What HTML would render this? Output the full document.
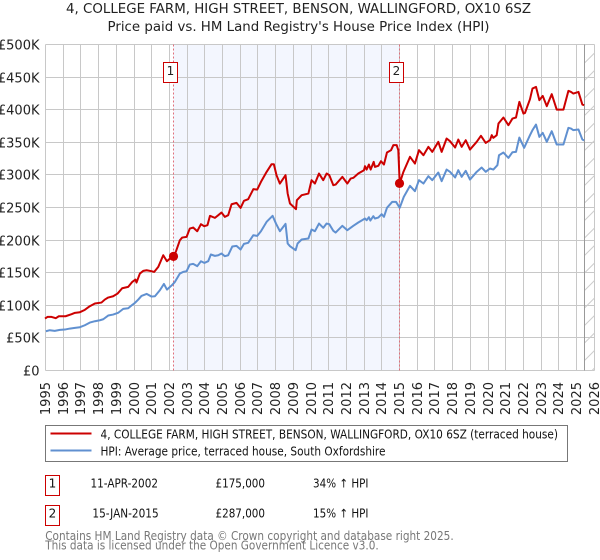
<!DOCTYPE html>
<html>
<head>
<meta charset="utf-8">
<title>Price paid vs. HM Land Registry's House Price Index</title>
<style>
html,body{margin:0;padding:0;background:#fff;}
svg{display:block;font-family:"DejaVu Sans","Liberation Sans",sans-serif;filter:blur(0.3px);}
</style>
</head>
<body>
<svg id="chart" xmlns="http://www.w3.org/2000/svg" width="600" height="560" viewBox="0 0 600 560">
  <defs>
    <pattern id="hatch" patternUnits="userSpaceOnUse" width="17.5" height="17.5">
      <line x1="0" y1="17.5" x2="17.5" y2="0" stroke="#ccc" stroke-width="1"/>
    </pattern>
  </defs>
  <g id="plot"></g>
  <g fill="#222" font-size="13">
    <text x="66" y="13" textLength="465" lengthAdjust="spacingAndGlyphs">4, COLLEGE FARM, HIGH STREET, BENSON, WALLINGFORD, OX10 6SZ</text>
    <text x="107.5" y="31" textLength="382" lengthAdjust="spacingAndGlyphs">Price paid vs. HM Land Registry's House Price Index (HPI)</text>
  </g>
  <g font-size="12" fill="#111">
    <rect x="45.5" y="425.5" width="522" height="36" fill="#fff" stroke="#777"/>
    <line x1="50.5" y1="433.5" x2="91.5" y2="433.5" stroke="#cc0000" stroke-width="2"/>
    <text x="100.5" y="438.5" textLength="457.5" lengthAdjust="spacingAndGlyphs">4, COLLEGE FARM, HIGH STREET, BENSON, WALLINGFORD, OX10 6SZ (terraced house)</text>
    <line x1="50.5" y1="450.5" x2="91.5" y2="450.5" stroke="#6090d0" stroke-width="2"/>
    <text x="100.5" y="455.5" textLength="285" lengthAdjust="spacingAndGlyphs">HPI: Average price, terraced house, South Oxfordshire</text>
  </g>
  <g font-size="12" fill="#111">
    <rect x="45.5" y="475.5" width="14" height="20" fill="#fff" stroke="#cc0000"/>
    <text x="52.5" y="487.5" text-anchor="middle">1</text>
    <text x="90.5" y="487.5" textLength="67.5" lengthAdjust="spacingAndGlyphs">11-APR-2002</text>
    <text x="215.5" y="487.5" textLength="49.5" lengthAdjust="spacingAndGlyphs">£175,000</text>
    <text x="313" y="487.5" textLength="55.5" lengthAdjust="spacingAndGlyphs">34% ↑ HPI</text>
    <rect x="45.5" y="505.5" width="14" height="20" fill="#fff" stroke="#cc0000"/>
    <text x="52.5" y="517.5" text-anchor="middle">2</text>
    <text x="92.4" y="517.5" textLength="66.3" lengthAdjust="spacingAndGlyphs">15-JAN-2015</text>
    <text x="215.5" y="517.5" textLength="49.5" lengthAdjust="spacingAndGlyphs">£287,000</text>
    <text x="313" y="517.5" textLength="55.5" lengthAdjust="spacingAndGlyphs">15% ↑ HPI</text>
  </g>
  <g font-size="12" fill="#777">
    <text x="45.2" y="540" textLength="408.5" lengthAdjust="spacingAndGlyphs">Contains HM Land Registry data © Crown copyright and database right 2025.</text>
    <text x="45.2" y="549.5" textLength="333.5" lengthAdjust="spacingAndGlyphs">This data is licensed under the Open Government Licence v3.0.</text>
  </g>
</svg>
<script>
const yearTicks = [1995,1996,1997,1998,1999,2000,2001,2002,2003,2004,2005,2006,2007,2008,2009,2010,2011,2012,2013,2014,2015,2016,2017,2018,2019,2020,2021,2022,2023,2024,2025,2026];
const valueTicks = [0,50,100,150,200,250,300,350,400,450,500];
const valueTickLabels = ['£0','£50K','£100K','£150K','£200K','£250K','£300K','£350K','£400K','£450K','£500K'];
const saleDates = [2002.27,2015.04];
const salePrices = [175,287];
const saleLabels = ['1','2'];
const dataEndDate = 2025.5;

const hpiDates = [1995.05,1995.27,1995.55,1995.84,1996.12,1996.40,1996.69,1996.97,1997.25,1997.53,1997.82,1998.10,1998.29,1998.57,1998.85,1999.13,1999.42,1999.70,1999.93,2000.08,2000.27,2000.45,2000.74,2001.02,2001.21,2001.49,2001.72,2001.89,2002.15,2002.34,2002.62,2002.81,2003.0,2003.18,2003.37,2003.6,2003.81,2004.0,2004.22,2004.37,2004.6,2004.79,2004.97,2005.16,2005.35,2005.58,2005.82,2006.05,2006.24,2006.48,2006.77,2006.99,2007.2,2007.52,2007.86,2008.05,2008.27,2008.59,2008.71,2008.84,2009.16,2009.27,2009.5,2009.88,2010.06,2010.25,2010.48,2010.72,2010.91,2011.06,2011.29,2011.42,2011.8,2012.08,2012.42,2012.7,2013.08,2013.17,2013.3,2013.38,2013.55,2013.64,2013.83,2014.02,2014.15,2014.32,2014.62,2014.83,2015.04,2015.27,2015.62,2015.9,2016.13,2016.38,2016.66,2016.88,2017.22,2017.41,2017.69,2017.88,2018.17,2018.35,2018.54,2018.77,2019.01,2019.39,2019.67,2019.9,2020.14,2020.33,2020.56,2020.65,2020.9,2021.18,2021.41,2021.61,2021.8,2022.07,2022.4,2022.54,2022.74,2022.93,2023.12,2023.35,2023.63,2023.91,2024.29,2024.57,2024.72,2024.85,2025.14,2025.36,2025.46];
const hpiValues = [60.2,61.8,60.8,62.3,62.8,64.3,65.4,66.4,69.4,73.5,75.6,77.1,78.6,84.3,85.8,88.4,94.5,95.5,100.6,103.7,108.8,114.4,117.5,113.4,113.9,123.1,132.8,124.1,130.3,135.9,148.7,151.3,152.3,162.5,163.5,160,167.6,165,167.6,177.9,175.8,176.8,179.4,175.3,176.8,190.1,191.1,185.5,194.2,195.8,207.5,206.5,213.6,228,237.2,225.4,213.6,224.9,194.8,190.7,184.5,194.8,200.9,202.4,216.2,213.7,225.4,218.8,225.4,224.4,214.2,211.6,221.9,215.2,221.9,227,233.1,230.5,235.1,230,236.7,233.1,234.6,239.7,235.7,249.5,258.7,258.7,249.5,266.3,283.2,275,291.9,286.8,298,291.9,303.6,290.4,308.2,304.7,296,307.2,297,306.2,292.9,304.7,311.3,304.7,309.8,308.2,314.9,330.2,334.3,326.1,334.8,335.3,357.3,341.5,360.9,368.6,377.2,358.3,364.5,350.7,367,346.6,346.6,372.1,371.1,368.6,369.6,354.2,352.7];

const priceDates = [1995.0,1995.14,1995.37,1995.61,1995.78,1996.16,1996.5,1996.69,1996.97,1997.25,1997.53,1997.82,1998.19,1998.38,1998.57,1998.85,1999.1,1999.36,1999.7,1999.93,2000.11,2000.17,2000.36,2000.55,2000.74,2001.02,2001.17,2001.4,2001.68,2001.89,2002.06,2002.27,2002.39,2002.62,2002.75,2003.0,2003.18,2003.37,2003.6,2003.81,2004.0,2004.18,2004.32,2004.6,2004.79,2004.97,2005.16,2005.35,2005.54,2005.82,2006.05,2006.24,2006.48,2006.77,2006.99,2007.2,2007.52,2007.8,2007.93,2008.08,2008.27,2008.59,2008.71,2008.84,2009.18,2009.23,2009.5,2009.88,2010.06,2010.25,2010.48,2010.72,2010.91,2011.06,2011.29,2011.42,2011.8,2012.08,2012.27,2012.42,2012.7,2013.02,2013.08,2013.17,2013.3,2013.4,2013.57,2013.64,2013.83,2013.98,2014.15,2014.32,2014.55,2014.68,2014.87,2014.96,2015.04,2015.25,2015.62,2015.9,2016.13,2016.38,2016.66,2016.88,2017.22,2017.41,2017.69,2017.88,2018.17,2018.35,2018.54,2018.77,2019.01,2019.39,2019.63,2019.9,2020.14,2020.24,2020.33,2020.52,2020.62,2020.9,2021.18,2021.41,2021.61,2021.8,2022.03,2022.12,2022.4,2022.54,2022.74,2022.93,2023.12,2023.35,2023.63,2023.91,2024.29,2024.57,2024.72,2024.85,2025.14,2025.36,2025.46];
const priceValues = [79.7,82.2,82.2,80.2,83.2,83.2,86.3,88.4,89.4,93,98.6,102.7,104.2,108.8,111.9,113.9,118,126.2,128.2,135.9,139.5,134.9,148.7,152.8,153.8,152.3,151.2,158.9,176.8,167.6,171.7,175,182,199.8,203.9,205,217.7,219.3,213.6,224.4,221.3,222.9,237.2,234.1,238.2,242.3,235.6,238.2,255,257.1,249.4,260.2,262.7,278.1,277.5,289.3,304.6,316.4,316.4,299.5,286.7,299.5,271.4,256.1,247.4,261.2,268.9,271.4,291.9,286.8,302.1,291.9,302.1,299.6,284.2,285.2,297,286.8,294.4,295.5,302.1,307.2,313.4,308.2,315.9,308.2,320,312.3,313.9,321,315.9,334.3,337.9,345.6,345.6,337.9,287,304.7,327.7,317.4,337.9,330.2,343,335.3,350.7,335.3,355.8,351.7,342,354.2,343,353.2,338.9,350.7,359.9,349.1,353.2,360.9,356.8,360.9,378.8,388,376.2,386.4,388,412,394.1,395.1,416.1,432.4,435,414.6,421.2,405.4,423.8,400.2,400.2,428.9,427.3,424.8,427.3,407.9,406.9];

const NS = 'http://www.w3.org/2000/svg';
const plot = document.getElementById('plot');
function xScale(year){ return 45.5 + 17.7 * (year - 1995); }
function yScale(value){ return 370.5 - 0.652 * value; }
function snap(p){ return Math.floor(p) + 0.5; }
function dataX(year){ return xScale(year) - 0.5; }
function make(tag, attrs){
  const el = document.createElementNS(NS, tag);
  for (const k in attrs) el.setAttribute(k, attrs[k]);
  plot.appendChild(el);
  return el;
}
const left = snap(xScale(1995)), right = snap(xScale(2026));
const top_ = snap(yScale(500)), bottom = snap(yScale(0));

const band = make('rect', {x: snap(dataX(saleDates[0])), y: top_, width: snap(dataX(saleDates[1])) - snap(dataX(saleDates[0])), height: bottom - top_, fill: '#f3f6fe'});



valueTicks.forEach(function(v, i){
  const y = snap(yScale(v));
  const g = make('line', {x1: left, x2: right, y1: y, y2: y, stroke: '#c8c8c8', 'stroke-width': 1});
  
  
  const t = make('text', {x: 39.5, y: y + 5, 'text-anchor': 'end', 'font-size': 13, fill: '#222'});
  t.textContent = valueTickLabels[i];
  
  
});

yearTicks.forEach(function(yr){
  const x = snap(xScale(yr));
  const g = make('line', {x1: x, x2: x, y1: top_, y2: bottom, stroke: '#c8c8c8', 'stroke-width': 1});
  
  
  const t = make('text', {transform: 'translate(' + (x + 4.5) + ',382) rotate(-90)', 'text-anchor': 'end', 'font-size': 13, fill: '#222'});
  t.textContent = String(yr);
  
  
});

const endX = snap(dataX(dataEndDate));
const hatch = make('rect', {x: endX, y: top_, width: right - endX, height: bottom - top_, fill: 'url(#hatch)'});


const endLine = make('line', {x1: endX, x2: endX, y1: top_, y2: bottom, stroke: '#999', 'stroke-width': 1});



saleDates.forEach(function(d){
  const x = snap(dataX(d));
  const l = make('line', {x1: x, x2: x, y1: top_, y2: bottom, stroke: '#e0707c', 'stroke-width': 1, 'stroke-dasharray': '2 2'});
  
  
});

function linePath(dates, values){
  return dates.map(function(d, i){
    return (i ? 'L' : 'M') + dataX(d).toFixed(2) + ' ' + yScale(values[i]).toFixed(2);
  }).join('');
}
const hpiLine = make('path', {d: linePath(hpiDates, hpiValues), fill: 'none', stroke: '#6090d0', 'stroke-width': 2, 'stroke-linejoin': 'round'});


const priceLine = make('path', {d: linePath(priceDates, priceValues), fill: 'none', stroke: '#cc0000', 'stroke-width': 2, 'stroke-linejoin': 'round'});



saleDates.forEach(function(d, i){
  const x = snap(dataX(d));
  const c = make('circle', {cx: x, cy: yScale(salePrices[i]), r: 4.6, fill: '#cc0000'});
  
  
  const b = make('rect', {x: Math.floor(x - 10) + 0.5, y: 62.5, width: 14, height: 20, fill: '#fff', stroke: '#cc0000', 'stroke-width': 1});
  
  
  const t = make('text', {x: Math.floor(x - 10) + 7.5, y: 75, 'text-anchor': 'middle', 'font-size': 12, fill: '#222'});
  t.textContent = saleLabels[i];
  
  
});
</script>
</body>
</html>
